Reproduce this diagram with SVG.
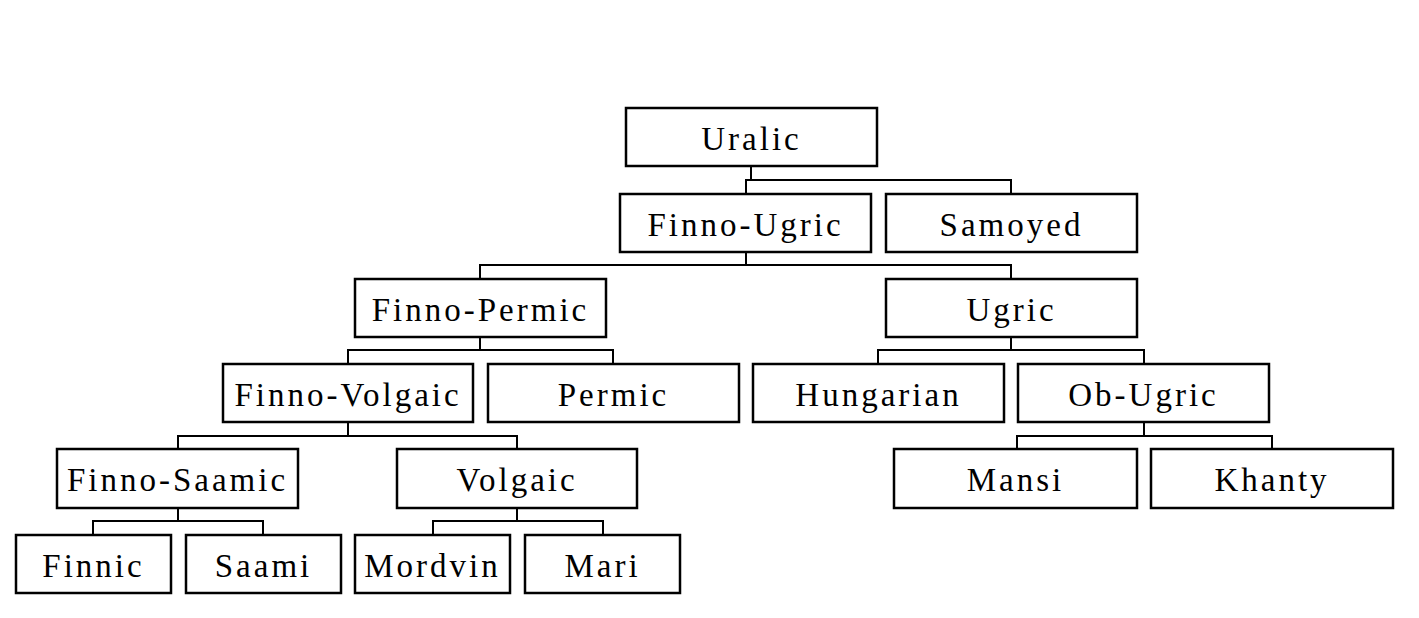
<svg xmlns="http://www.w3.org/2000/svg" width="1419" height="618" viewBox="0 0 1419 618">
<style>
.n rect{fill:#fff;stroke:#000;stroke-width:2.5}
.n text{font-family:"Liberation Serif",serif;font-size:33px;letter-spacing:3px;text-anchor:middle;fill:#000}
#c path{fill:none;stroke:#000;stroke-width:2}
</style>
<rect width="1419" height="618" fill="#fff"/>
<g id="c">
<path d="M751 166V180M746 194V180H1011V194"/>
<path d="M746 252V265M480 279V265H1011V279"/>
<path d="M480 337V350M348 364V350H613V364"/>
<path d="M1011 337V350M878 364V350H1144V364"/>
<path d="M348 422V436M178 449V436H517V449"/>
<path d="M1144 422V436M1017 449V436H1272V449"/>
<path d="M178 508V521M93 535V521H263V535"/>
<path d="M517 508V521M433 535V521H603V535"/>
</g>
<g id="uralic" class="n"><rect x="626" y="108" width="251" height="58"/><text x="751.5" y="150">Uralic</text></g>
<g id="finno-ugric" class="n"><rect x="620" y="194" width="251" height="58"/><text x="745.5" y="236">Finno-Ugric</text></g>
<g id="samoyed" class="n"><rect x="886" y="194" width="251" height="58"/><text x="1011.5" y="236">Samoyed</text></g>
<g id="finno-permic" class="n"><rect x="355" y="279" width="251" height="58"/><text x="480.5" y="321">Finno-Permic</text></g>
<g id="ugric" class="n"><rect x="886" y="279" width="251" height="58"/><text x="1011.5" y="321">Ugric</text></g>
<g id="finno-volgaic" class="n"><rect x="223" y="364" width="250" height="58"/><text x="348" y="406">Finno-Volgaic</text></g>
<g id="permic" class="n"><rect x="488" y="364" width="251" height="58"/><text x="613.5" y="406">Permic</text></g>
<g id="hungarian" class="n"><rect x="753" y="364" width="251" height="58"/><text x="878.5" y="406">Hungarian</text></g>
<g id="ob-ugric" class="n"><rect x="1018" y="364" width="251" height="58"/><text x="1143.5" y="406">Ob-Ugric</text></g>
<g id="finno-saamic" class="n"><rect x="57" y="449" width="241" height="59"/><text x="177.5" y="491">Finno-Saamic</text></g>
<g id="volgaic" class="n"><rect x="397" y="449" width="240" height="59"/><text x="517" y="491">Volgaic</text></g>
<g id="mansi" class="n"><rect x="894" y="449" width="243" height="59"/><text x="1015.5" y="491">Mansi</text></g>
<g id="khanty" class="n"><rect x="1151" y="449" width="242" height="59"/><text x="1272" y="491">Khanty</text></g>
<g id="finnic" class="n"><rect x="16" y="535" width="155" height="58"/><text x="93.5" y="577">Finnic</text></g>
<g id="saami" class="n"><rect x="186" y="535" width="155" height="58"/><text x="263.5" y="577">Saami</text></g>
<g id="mordvin" class="n"><rect x="355" y="535" width="155" height="58"/><text x="432.5" y="577">Mordvin</text></g>
<g id="mari" class="n"><rect x="525" y="535" width="155" height="58"/><text x="602.5" y="577">Mari</text></g>
</svg>
